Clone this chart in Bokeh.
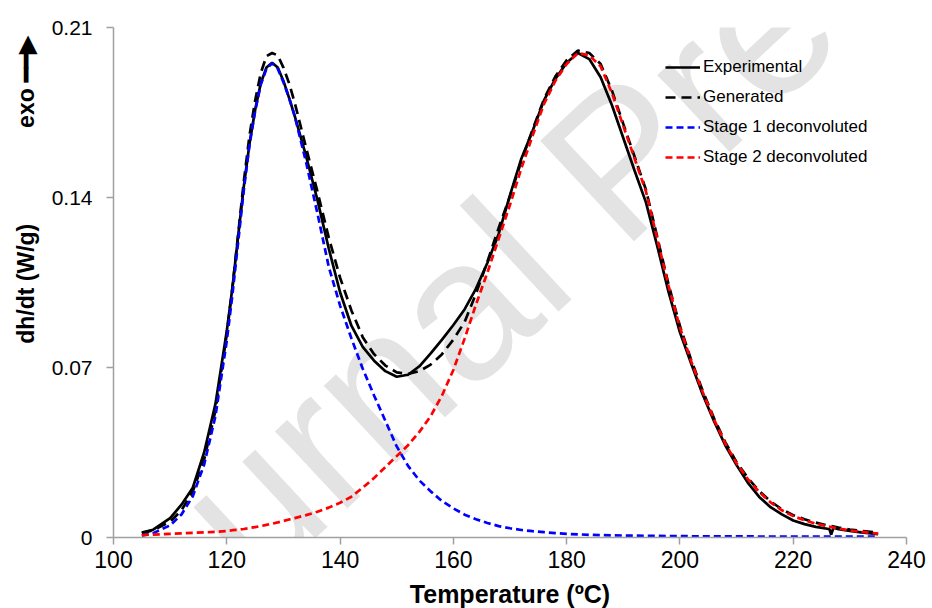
from bokeh.plotting import figure
from bokeh.models import (ColumnDataSource, Legend, LegendItem, FixedTicker, Label,
                          CustomJSTickFormatter, Range1d)
from bokeh.embed import file_html
from bokeh.resources import INLINE

# ---- data ----
T_exp = [105, 107, 110, 112, 114, 116, 118, 120, 121, 122, 123, 124, 125, 126, 127, 128, 129,
         130, 131, 132, 134, 136, 138, 140, 142, 144, 146, 148, 150, 152, 154, 156, 158, 160,
         162, 164, 166, 168, 170, 172, 174, 176, 178, 180, 182, 184, 186, 188, 190, 192, 194,
         196, 198, 200, 202, 204, 206, 208, 210, 212, 214, 216, 218, 220, 222, 224, 226,
         226.4, 226.7, 227.1, 228, 230, 232, 235]
experimental = [0.002, 0.0032, 0.008, 0.0135, 0.0205, 0.035, 0.055, 0.085, 0.103, 0.124, 0.1445,
                0.162, 0.176, 0.187, 0.1935, 0.1955, 0.1935, 0.188, 0.181, 0.1735, 0.157, 0.139,
                0.119, 0.101, 0.0872, 0.0785, 0.0728, 0.0685, 0.0662, 0.067, 0.0705, 0.0758,
                0.0815, 0.0875, 0.094, 0.1025, 0.113, 0.125, 0.141, 0.156, 0.1675, 0.18, 0.1888,
                0.1955, 0.1995, 0.197, 0.1895, 0.178, 0.1645, 0.151, 0.138, 0.12, 0.101, 0.0845,
                0.0715, 0.059, 0.048, 0.038, 0.0298, 0.0225, 0.0167, 0.0125, 0.0095, 0.007,
                0.0055, 0.0044, 0.0036, 0.0034, 0.0012, 0.004, 0.0034, 0.0027, 0.0021, 0.0014]

T = [105, 107, 110, 112, 114, 116, 118, 120, 121, 122, 123, 124, 125, 126, 127, 128, 129, 130,
     131, 132, 134, 136, 138, 140, 142, 144, 146, 148, 150, 152, 154, 156, 158, 160, 162, 164,
     166, 168, 170, 172, 174, 176, 178, 180, 182, 184, 186, 188, 190, 192, 194, 196, 198, 200,
     202, 204, 206, 208, 210, 212, 214, 216, 218, 220, 222, 224, 226, 228, 230, 232, 235]
generated = [0.0018, 0.003, 0.0065, 0.0112, 0.019, 0.032, 0.0523, 0.0837, 0.103, 0.1247, 0.1465,
             0.1654, 0.1798, 0.1912, 0.1982, 0.1995, 0.1985, 0.1935, 0.187, 0.179, 0.1605,
             0.1425, 0.1235, 0.107, 0.0935, 0.0825, 0.0755, 0.0708, 0.068, 0.0673, 0.0685,
             0.0712, 0.0755, 0.0815, 0.0888, 0.1005, 0.1135, 0.1275, 0.1405, 0.155, 0.168,
             0.1805, 0.1898, 0.1965, 0.2005, 0.1995, 0.195, 0.184, 0.1703, 0.1568, 0.1432,
             0.1237, 0.1041, 0.0871, 0.073, 0.0605, 0.0492, 0.0393, 0.031, 0.0245, 0.0191,
             0.0149, 0.0116, 0.0092, 0.0075, 0.0061, 0.005, 0.0041, 0.0033, 0.0027, 0.002]
stage1 = [0.0008, 0.0018, 0.005, 0.0095, 0.017, 0.03, 0.05, 0.081, 0.1, 0.1215, 0.143, 0.1615,
          0.1755, 0.1865, 0.193, 0.1953, 0.193, 0.1875, 0.181, 0.1735, 0.1545, 0.1335, 0.1115,
          0.0955, 0.082, 0.0695, 0.0585, 0.048, 0.0375, 0.0295, 0.0235, 0.019, 0.015, 0.012,
          0.0094, 0.0075, 0.006, 0.0047, 0.0038, 0.0031, 0.0026, 0.0022, 0.0018, 0.0015, 0.0013,
          0.0011, 0.001, 0.0009, 0.0008, 0.0008, 0.0007, 0.0007, 0.0006, 0.0006, 0.0005, 0.0005,
          0.0005, 0.0005, 0.0005, 0.0005, 0.0004, 0.0004, 0.0004, 0.0004, 0.0004, 0.0004, 0.0004,
          0.0004, 0.0004, 0.0004, 0.0004]
stage2 = [0.001, 0.0012, 0.0015, 0.0017, 0.0019, 0.0021, 0.0023, 0.0027, 0.003, 0.0032, 0.0035,
          0.0039, 0.0043, 0.0047, 0.0052, 0.0057, 0.0062, 0.0068, 0.0074, 0.008, 0.0092, 0.0106,
          0.0123, 0.0143, 0.0168, 0.0205, 0.0245, 0.029, 0.0335, 0.038, 0.0435, 0.05, 0.0585,
          0.069, 0.082, 0.096, 0.109, 0.123, 0.137, 0.152, 0.1655, 0.1785, 0.188, 0.195, 0.1995,
          0.1985, 0.194, 0.183, 0.1695, 0.156, 0.1425, 0.123, 0.1035, 0.0865, 0.0725, 0.06,
          0.0487, 0.0388, 0.0305, 0.024, 0.0187, 0.0145, 0.0112, 0.0088, 0.0071, 0.0057, 0.0046,
          0.0037, 0.0029, 0.0023, 0.0016]

x_ticks = [100, 120, 140, 160, 180, 200, 220, 240]
y_ticks = [0, 0.07, 0.14, 0.21]
series_labels = ["Experimental", "Generated", "Stage 1 deconvoluted", "Stage 2 deconvoluted"]
x_title = "Temperature (ºC)"
y_title = "dh/dt (W/g)"
exo_text = "exo"
watermark = "Journal Pre-proof"

FONT = "Liberation Sans"
NB = "\u00a0"

p = figure(width=932, height=608, output_backend="svg", toolbar_location=None,
           x_range=Range1d(100, 240), y_range=Range1d(0, 0.21),
           min_border_left=113, min_border_right=26, min_border_top=27, min_border_bottom=71)
p.frame_width = 793
p.frame_height = 510
p.outline_line_color = None
p.grid.visible = False
p.background_fill_color = "white"

src_e = ColumnDataSource(dict(x=T_exp, y=experimental))
src = ColumnDataSource(dict(x=T, g=generated, s1=stage1, s2=stage2))

r_exp = p.line("x", "y", source=src_e, line_color="black", line_width=2.7)
r_gen = p.line("x", "g", source=src, line_color="black", line_width=2.7, line_dash="10 6")
r_s1 = p.line("x", "s1", source=src, line_color="#0000ff", line_width=2.7, line_dash="7 4")
r_s2 = p.line("x", "s2", source=src, line_color="#ff0000", line_width=2.7, line_dash="7 4")

legend = Legend(items=[LegendItem(label=series_labels[0], renderers=[r_exp]),
                       LegendItem(label=series_labels[1], renderers=[r_gen]),
                       LegendItem(label=series_labels[2], renderers=[r_s1]),
                       LegendItem(label=series_labels[3], renderers=[r_s2])],
                location=(552, 370), padding=0, margin=0, spacing=10,
                glyph_width=35, glyph_height=20, label_height=20, label_standoff=3,
                border_line_color=None, background_fill_alpha=0,
                label_text_font=FONT, label_text_font_size="17px", label_text_color="black")
p.add_layout(legend, "center")

axis_grey = "#a0a0a0"
for ax in (p.xaxis[0], p.yaxis[0]):
    ax.axis_line_color = axis_grey
    ax.axis_line_width = 1.5
    ax.major_tick_line_color = axis_grey
    ax.major_tick_line_width = 1.5
    ax.major_tick_out = 7
    ax.major_tick_in = 0
    ax.minor_tick_line_color = None
    ax.major_label_text_color = "black"
    ax.axis_label_text_color = "black"
    ax.axis_label_text_font = FONT
    ax.axis_label_text_font_style = "bold"

p.xaxis.ticker = FixedTicker(ticks=x_ticks)
p.xaxis.major_label_text_font = FONT
p.xaxis.major_label_text_font_size = "23px"
p.xaxis.major_label_standoff = 6
p.xaxis.axis_label = x_title
p.xaxis.axis_label_text_font_size = "25px"
p.xaxis.axis_label_standoff = 9

p.yaxis.ticker = FixedTicker(ticks=y_ticks)
p.yaxis.formatter = CustomJSTickFormatter(code="return tick == 0 ? '0' : tick.toFixed(2);")
p.yaxis.major_label_text_font = FONT
p.yaxis.major_label_text_font_size = "21px"
p.yaxis.major_label_standoff = 14
# y title with the "exo" arrow further up the same (rotated) line
p.yaxis.axis_label = NB * 29 + y_title + NB * 15 + exo_text + NB + "\u2501\u2501\u25b6"
p.yaxis.axis_label_text_font_size = "23px"
p.yaxis.axis_label_standoff = 10

# watermark
p.add_layout(Label(x=89.5, y=-0.0614, text=watermark,
                   angle=0.75, text_font=FONT, text_font_size="200px", text_color="#e3e3e3",
                   text_align="left", text_baseline="alphabetic", level="underlay"))

open("out.html", "w").write(file_html(p, INLINE))
